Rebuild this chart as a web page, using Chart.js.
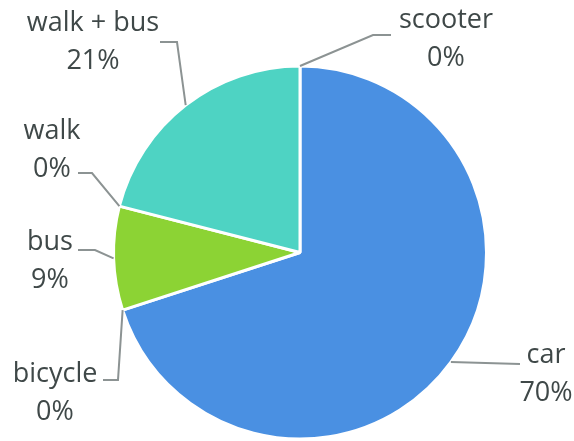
<!DOCTYPE html>
<html>
<head>
<meta charset="utf-8">
<script src="https://cdn.jsdelivr.net/npm/chart.js@4"></script>
<style>
  html, body { margin: 0; padding: 0; background: #fff; }
  #wrap { width: 574px; height: 441px; position: relative; }
</style>
</head>
<body>
<div id="wrap"><canvas id="chart"></canvas></div>
<script>
// clockwise from 12 o'clock
const categories = ['scooter', 'car', 'bicycle', 'bus', 'walk', 'walk + bus'];
const shares = [0, 70, 0, 9, 0, 21];
const colors = ['#4a90e2', '#4a90e2', '#4a90e2', '#8cd334', '#4ed3c3', '#4ed3c3'];

// where each callout goes: knee/end of the leader line and the text centre
const callouts = [
  { knee: [373, 35], end: [391, 35], text: [446, 20] },
  { knee: [520, 364], end: [520, 364], text: [546, 355] },
  { knee: [118, 380], end: [103, 380], text: [55, 374] },
  { knee: [95, 250], end: [78, 250], text: [50, 242] },
  { knee: [92, 173], end: [78, 173], text: [52, 131] },
  { knee: [177, 42], end: [160, 42], text: [93, 23] },
];

const calloutPlugin = {
  id: 'callouts',
  afterDatasetsDraw(chart) {
    const ctx = chart.ctx;
    const arcs = chart.getDatasetMeta(0).data;
    ctx.save();
    arcs.forEach((arc, i) => {
      const c = callouts[i];
      const mid = (arc.startAngle + arc.endAngle) / 2;
      const ax = arc.x + Math.cos(mid) * arc.outerRadius;
      const ay = arc.y + Math.sin(mid) * arc.outerRadius;
      ctx.strokeStyle = '#8c9393';
      ctx.lineWidth = 2;
      ctx.beginPath();
      ctx.moveTo(ax, ay);
      ctx.lineTo(c.knee[0], c.knee[1]);
      ctx.lineTo(c.end[0], c.end[1]);
      ctx.stroke();

      ctx.fillStyle = '#3f4848';
      ctx.font = '27px "Open Sans", sans-serif';
      ctx.textAlign = 'center';
      ctx.textBaseline = 'middle';
      ctx.fillText(categories[i], c.text[0], c.text[1]);
      ctx.fillText(shares[i] + '%', c.text[0], c.text[1] + 38);
    });
    ctx.restore();
  },
};

new Chart(document.getElementById('chart'), {
  type: 'pie',
  data: {
    labels: categories,
    datasets: [{
      data: shares,
      backgroundColor: colors,
      borderColor: '#ffffff',
      borderWidth: 3,
    }],
  },
  options: {
    responsive: true,
    maintainAspectRatio: false,
    animation: false,
    layout: { padding: { top: 64, bottom: 0, left: 112, right: 86 } },
    plugins: {
      legend: { display: false },
      tooltip: { enabled: false },
    },
  },
  plugins: [calloutPlugin],
});
</script>
</body>
</html>
